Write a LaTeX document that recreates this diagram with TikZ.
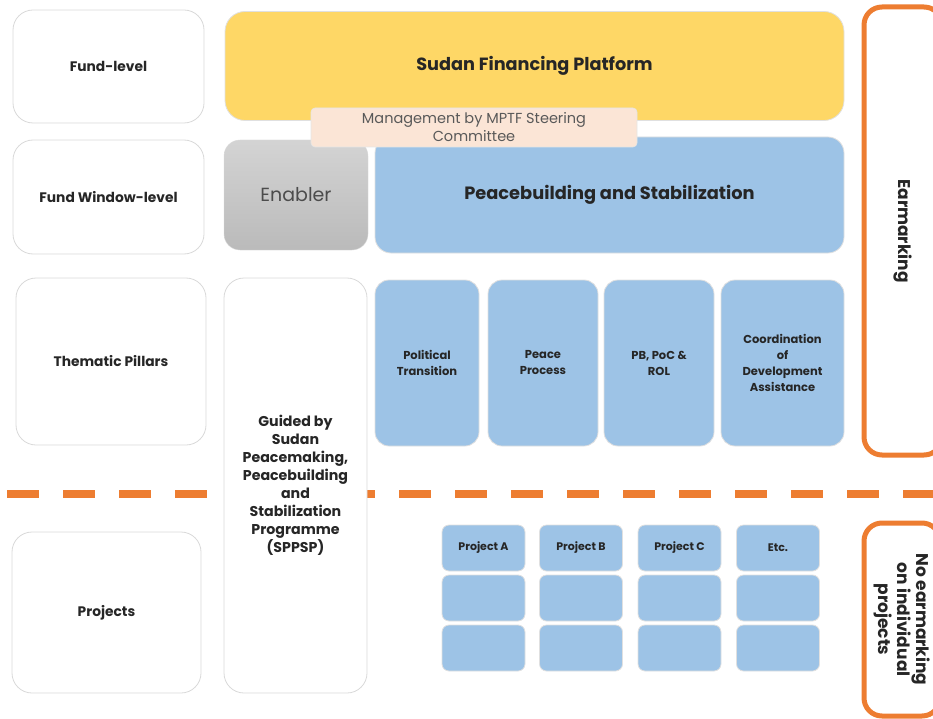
\documentclass[tikz,border=0pt]{standalone}
\usepackage{fontspec}
\setmainfont{Poppins}
\usepackage{xcolor}
\definecolor{fundyellow}{HTML}{FED766}
\definecolor{pbblue}{HTML}{9DC3E6}
\definecolor{mgmtpink}{HTML}{FBE5D6}
\definecolor{earorange}{HTML}{ED7D31}
\definecolor{boxgrey}{HTML}{D9D9D9}
\definecolor{txtdark}{HTML}{262626}

\begin{document}
\begin{tikzpicture}[x=1pt,y=-1pt,
    every node/.style={outer sep=0pt, inner sep=0pt, align=center, text=txtdark},
    level/.style={draw=boxgrey, fill=white, line width=0.8pt, rounded corners=20pt,
        font=\bfseries\fontsize{13.8}{16}\selectfont},
    window/.style={draw=black!12, fill=pbblue, line width=0.8pt, rounded corners=16pt},
    pillar/.style={draw=black!12, fill=pbblue, line width=0.8pt, rounded corners=14pt,
        minimum height=166pt, font=\bfseries\fontsize{11.5}{16}\selectfont},
    cell/.style={draw=black!12, fill=pbblue, line width=0.8pt, rounded corners=7pt,
        minimum width=83pt, minimum height=46pt, font=\bfseries\fontsize{11}{13}\selectfont},
    earmark/.style={draw=earorange, line width=5pt, rounded corners=18pt, rotate=-90,
        font=\bfseries\fontsize{17}{19}\selectfont}]
    \useasboundingbox (0,0) rectangle (933,719);
    % line between pillars and projects
    \coordinate (cutleft) at (7,494);
    \coordinate (cutright) at (940,494);
    \draw[earorange, line width=8pt, dash pattern=on 32pt off 24pt] (cutleft) -- (cutright);
    % levels on the left
    \node[level, minimum width=191pt, minimum height=113pt] (fundlevel) at (108.5,66.5) {Fund-level};
    \node[level, minimum width=191pt, minimum height=114pt] (windowlevel) at (108.5,197) {Fund Window-level};
    \node[level, minimum width=190pt, minimum height=167pt] (pillarlevel) at (111,361.5) {Thematic Pillars};
    \node[level, minimum width=189pt, minimum height=161pt] (projectlevel) at (106.5,612.5) {Projects};
    % fund and windows
    \node[draw=black!12, fill=fundyellow, line width=0.8pt, rounded corners=20pt,
        minimum width=619pt, minimum height=109pt, font=\bfseries\fontsize{17.7}{19}\selectfont]
        (platform) at (534.5,66) {Sudan Financing Platform};
    \node[draw=black!15, top color=black!17, bottom color=black!27, rounded corners=16pt,
        minimum width=144pt, minimum height=110pt, text=black!70, font=\fontsize{19}{21}\selectfont]
        (enabler) at (296,195) {Enabler};
    \node[window, minimum width=469pt, minimum height=116pt, font=\bfseries\fontsize{17.8}{19}\selectfont]
        (peacebuilding) at (609.5,195) {Peacebuilding and Stabilization};
    \node[level, minimum width=143pt, minimum height=415pt, font=\bfseries\fontsize{14.2}{18}\selectfont]
        (sppsp) at (295.5,485.5) {Guided by\\Sudan\\Peacemaking,\\Peacebuilding\\and\\Stabilization\\Programme\\(SPPSP)};
    % thematic pillars
    \node[pillar, minimum width=104pt] (political) at (427,363) {Political\\Transition};
    \node[pillar, minimum width=110pt] (peaceprocess) at (543,363) {Peace\\Process};
    \node[pillar, minimum width=110pt] (pbpoc) at (659,363) {PB, PoC \&\\ROL};
    \node[pillar, minimum width=123pt] (coordination) at (782.5,363) {Coordination\\of\\Development\\Assistance};
    % projects
    \node[cell] (projA) at (483.5,548) {Project A};
    \node[cell] (projB) at (581,548) {Project B};
    \node[cell] (projC) at (679.5,548) {Project C};
    \node[cell] (projEtc) at (778,548) {Etc.};
    \node[cell] (projA2) at (483.5,598) {};
    \node[cell] (projB2) at (581,598) {};
    \node[cell] (projC2) at (679.5,598) {};
    \node[cell] (projEtc2) at (778,598) {};
    \node[cell] (projA3) at (483.5,648) {};
    \node[cell] (projB3) at (581,648) {};
    \node[cell] (projC3) at (679.5,648) {};
    \node[cell] (projEtc3) at (778,648) {};
    % steering committee on top
    \node[draw=black!10, fill=mgmtpink, line width=0.6pt, rounded corners=4pt,
        minimum width=326pt, minimum height=39pt, text=black!65, font=\fontsize{14.5}{18}\selectfont]
        (steering) at (474,127.5) {Management by MPTF Steering\\Committee};
    % earmarking on the right
    \node[earmark, minimum width=448pt, minimum height=78pt] (earmarking) at (903,231) {Earmarking};
    \node[earmark, minimum width=193pt, minimum height=76pt] (noearmarking) at (902,619.5)
        {No earmarking\\on individual\\projects};
\end{tikzpicture}
\end{document}
